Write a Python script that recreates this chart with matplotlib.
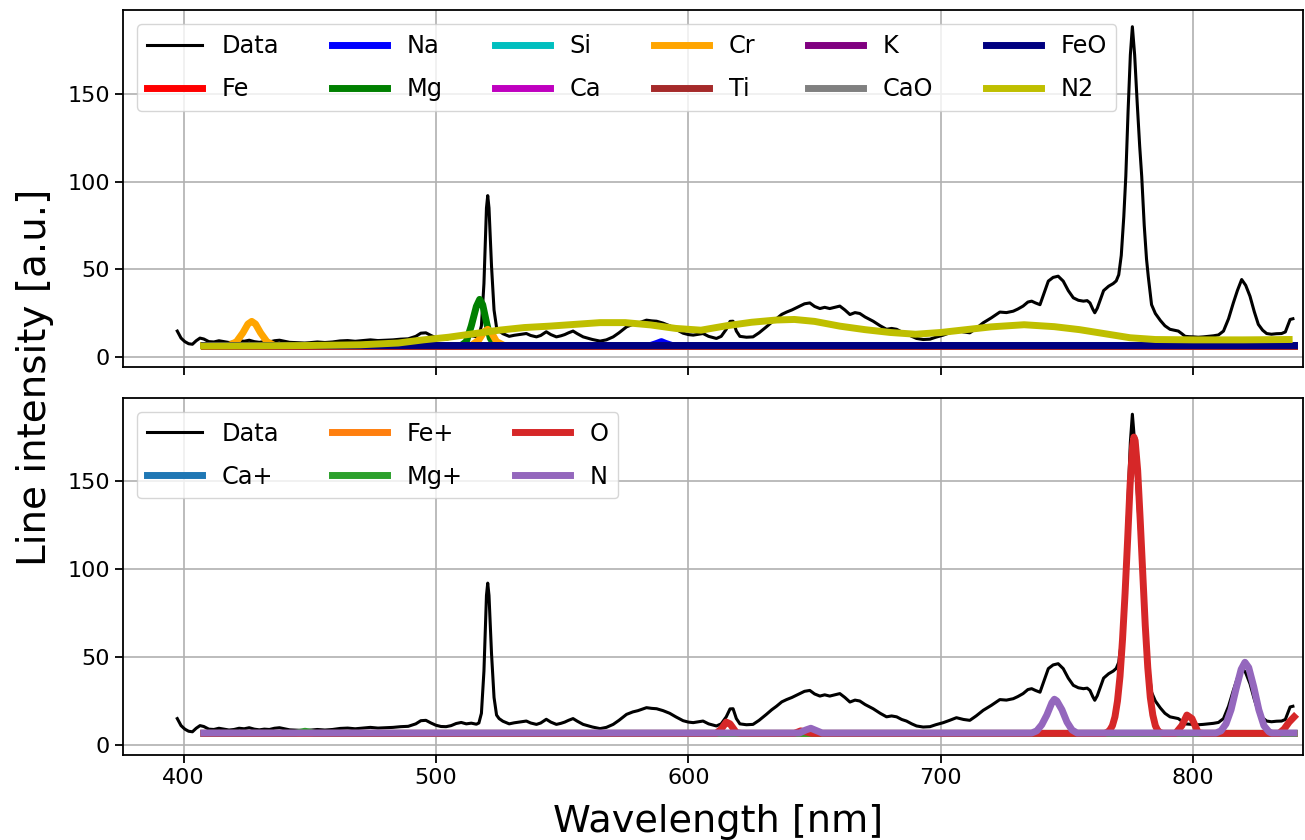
import matplotlib
matplotlib.use("Agg")
import matplotlib.pyplot as plt


# measured spectrum (same in both panels)
data_wl = [397.5, 399, 400.5, 402, 403.5, 405, 406.5, 408, 410, 412, 414, 416, 418, 420,
           422, 424, 426, 428, 430, 432, 434, 436, 438, 440, 442, 445, 448, 450, 453, 456,
           459, 462, 465, 468, 471, 474, 477, 480, 483, 486, 489, 492, 494, 496, 498, 500,
           502, 504, 506, 508, 510, 512, 514, 516, 517, 518, 519, 520, 520.5, 521, 522, 523,
           524, 525, 526.5, 529, 531, 533, 535.8, 537.5, 539.8, 541.5, 543.7, 545.5, 547.7,
           549.5, 551, 552.5, 554.3, 556, 558.3, 560, 562, 565, 567.5, 570.2, 572.5, 575.5,
           578, 580, 583.4, 585.5, 587.4, 590, 592.6, 595, 597.9, 600, 601.9, 604, 605.8,
           608, 611.1, 613, 615, 616.5, 617.7, 619, 620.4, 623, 625.6, 628, 630.9, 633,
           634.9, 637, 638.9, 641, 644.2, 646, 648.1, 650, 652.1, 654, 656, 658, 660, 662,
           664, 666, 667.9, 670, 673.2, 676, 678.5, 680.5, 682.5, 684.5, 686.4, 688.5,
           690.4, 693, 695.7, 698, 701, 703.5, 706.2, 709, 711.5, 714, 716.8, 720, 723.4,
           726, 728.7, 730.5, 732.6, 734.5, 736, 737.5, 739.3, 741, 742.6, 744.5, 746.5,
           748.5, 750.5, 752.5, 754.5, 756.5, 758, 759.1, 760.2, 761, 762, 763, 764.5,
           766.5, 768.3, 769.5, 770.5, 771.5, 772.5, 773.3, 774.2, 775.1, 775.9, 776.8,
           777.8, 778.8, 779.6, 780.6, 781.5, 782.2, 783, 783.5, 785, 787, 788.8, 790.8,
           792.5, 794.1, 795.5, 796.8, 798.5, 800.1, 802, 804, 806, 808, 810, 812, 814,
           815.9, 817.5, 819.2, 820.8, 822.5, 824.2, 825.8, 827.5, 829.1, 831, 833, 835,
           836.5, 838.4, 839.5]
data_val = [15, 11, 9, 7.8, 7.5, 9.5, 11, 10.5, 9, 8.8, 9.5, 9, 8.5, 8.8,
            9.5, 9.2, 9.8, 9, 8.6, 9, 8.8, 9.5, 9.8, 9.2, 8.6, 8.4, 8.2, 8.4, 8.8, 8.5,
            8.8, 9.4, 9.6, 9.2, 9.6, 10, 9.6, 9.8, 10, 10.4, 10.6, 12, 13.8, 14, 12.5, 11.2,
            10.5, 10.4, 11, 12.2, 12.8, 12, 12.4, 11.8, 12.5, 18, 42, 85, 92, 85, 52, 27,
            17, 15, 13.5, 12, 12.6, 13, 13.6, 12.5, 11.7, 12.5, 14.6, 13, 11.7,
            12.3, 13, 14, 15, 13.5, 11.7, 11, 10.2, 9.3, 10, 11.7, 14, 17.4,
            18.8, 19.5, 21.2, 20.8, 20.6, 19.5, 18, 16, 13.8, 13, 12.7, 13.2, 13.6,
            12, 10.8, 12, 16, 20.5, 20.6, 15, 12, 11.5, 11.7, 14, 17.4, 20,
            22, 24.5, 25.8, 27, 29.2, 30.5, 31, 29, 27.8, 28.5, 27.8, 28.5, 29.2, 27,
            24.4, 25.5, 25, 23, 20.6, 18, 16, 16.5, 16, 14.5, 13.6, 12,
            10.8, 10.2, 10.4, 11.5, 12.7, 14, 15.5, 14.5, 14, 16.5, 19.7, 22.5, 25.8,
            25.5, 26.3, 27.5, 29.2, 31.5, 32, 31, 30, 37, 43.4, 45.5, 46.2,
            43.4, 38, 33.9, 32.5, 32, 32.3, 31, 27.5, 25.4, 28, 32, 38,
            40.5, 42, 43.5, 47, 58, 80, 103, 140, 172, 188, 172,
            145, 120, 103, 75, 56, 46, 36, 30, 25, 21, 18, 16,
            15.5, 15, 13.5, 12, 11.8, 11.7, 11.5, 11.7, 12, 12.3, 12.8, 15, 22,
            31, 38, 44.3, 41, 34.8, 26, 18.8, 15.5, 13.6, 13.2, 13.5, 13.6,
            14.5, 21.6, 22]

# neutral atoms and molecules (top panel)
flat_wl = [408, 840]
fe_val = [6.5, 6.5]
na_wl = [408, 585, 587.5, 589.3, 591, 593.5, 840]
na_val = [6.8, 6.8, 8, 9, 8, 6.8, 6.8]
mg_wl = [408, 510, 512, 514, 516, 517.3, 518.5, 520, 521.5, 523, 525, 840]
mg_val = [6.8, 6.8, 9, 18, 29, 33, 30, 20, 11, 7.5, 6.8, 6.8]
si_val = [6.8, 6.8]
ca_val = [6.8, 6.8]
cr_wl = [408, 418, 421, 423.5, 425.5, 427, 428.5, 430.5, 433, 436,
         514, 517, 519, 520.5, 522, 524, 527, 840]
cr_val = [6.8, 6.8, 9, 14, 19, 20.5, 19, 14, 9, 6.8,
          6.8, 10, 14.5, 16, 14, 9, 6.8, 6.8]
ti_val = [6.7, 6.7]
k_val = [6.8, 6.8]
cao_val = [6.8, 6.8]
feo_val = [6.8, 6.8]
n2_wl = [408, 430, 450, 470, 485, 495, 505, 515, 525, 535, 545, 555, 565, 575, 585,
         595, 605, 615, 625, 635, 642, 650, 660, 670, 680, 690, 700, 710, 720, 733,
         745, 755, 765, 775, 785, 800, 820, 838]
n2_val = [6.5, 6.6, 6.8, 7.2, 8.2, 10, 11.5, 13.5, 15.5, 17, 17.8, 18.8, 19.8, 19.8, 18.5,
          16.5, 15.5, 18, 20, 21.3, 21.6, 20.5, 17.8, 15.8, 14.2, 13.2, 14.2, 15.8, 17.4, 18.6,
          17.5, 15.8, 13.5, 11.2, 10.2, 10, 10, 10.2]

# ions and atomic O / N (bottom panel)
cap_val = [6.6, 6.6]
fep_val = [6.6, 6.6]
mgp_wl = [408, 444, 446.5, 448.1, 450, 452, 840]
mgp_val = [6.6, 6.6, 7.3, 7.8, 7.3, 6.6, 6.6]
o_wl = [408, 611, 613, 615, 616.5, 619, 621, 642, 644.5, 646.5, 649,
        765, 766, 767, 768, 769, 770, 771, 772, 773, 774, 775, 776, 776.5, 777, 778, 779,
        780, 781, 782, 783, 784, 785, 786, 787, 788,
        793, 795.5, 797.5, 799.5, 802, 804, 834, 836, 838, 840]
o_val = [6.6, 6.6, 9, 13, 12, 7, 6.6, 6.6, 8, 7.5, 6.6,
         6.6, 7.2, 8.5, 11, 16, 25, 39, 60, 86, 116, 148, 170, 175, 173, 156, 128,
         98, 68, 44, 27, 17, 11, 8, 7, 6.6,
         6.6, 11, 17, 15, 7, 6.6, 6.6, 9, 13, 16]
n_wl = [408, 644, 646.5, 648.5, 650.5, 653, 736, 738, 740, 742, 744, 745, 746, 748,
        750, 752, 754, 809, 811, 813, 815, 817, 819, 820.5, 822, 824, 826, 828, 830,
        831, 840]
n_val = [6.8, 6.8, 8.5, 9.5, 8.3, 6.8, 6.8, 8, 11.5, 17, 24, 26, 25, 20,
         13, 8.5, 6.8, 6.8, 8, 12, 20, 32, 43, 47, 44, 33, 20, 11, 7.5,
         6.8, 6.8]

top_series = [
    ("Fe", flat_wl, fe_val, "r"),
    ("Na", na_wl, na_val, "b"),
    ("Mg", mg_wl, mg_val, "g"),
    ("Si", flat_wl, si_val, "c"),
    ("Ca", flat_wl, ca_val, "m"),
    ("Cr", cr_wl, cr_val, "orange"),
    ("Ti", flat_wl, ti_val, "brown"),
    ("K", flat_wl, k_val, "purple"),
    ("CaO", flat_wl, cao_val, "gray"),
    ("FeO", flat_wl, feo_val, "navy"),
    ("N2", n2_wl, n2_val, "y"),
]
bottom_series = [
    ("Ca+", flat_wl, cap_val, "C0"),
    ("Fe+", flat_wl, fep_val, "C1"),
    ("Mg+", mgp_wl, mgp_val, "C2"),
    ("O", o_wl, o_val, "C3"),
    ("N", n_wl, n_val, "C4"),
]

plt.rcParams["font.size"] = 16

fig, (ax1, ax2) = plt.subplots(2, 1, sharex=True, figsize=(13.05, 8.4), dpi=100)
fig.subplots_adjust(left=123 / 1305, right=1303 / 1305, top=1 - 10 / 840,
                    bottom=1 - 755 / 840, hspace=0.084)

for ax, series, ncol in [(ax1, top_series, 6), (ax2, bottom_series, 3)]:
    ax.plot(data_wl, data_val, color="k", lw=2.2, label="Data", zorder=2)
    for name, wl, val, col in series:
        ax.plot(wl, val, color=col, lw=5, label=name, zorder=3)
    ax.grid(True, color="#b0b0b0", lw=1.2)
    ax.set_axisbelow(True)
    ax.set_ylim(-5.7, 197.5)
    ax.set_yticks([0, 50, 100, 150])
    ax.tick_params(labelsize=16, length=6, width=1.3)
    for sp in ax.spines.values():
        sp.set_linewidth(1.3)
    ax.legend(loc="upper left", ncol=ncol, fontsize=17.3, handlelength=2.3,
              labelspacing=0.8, borderaxespad=0.6, columnspacing=2.2)

ax2.set_xlim(376, 843.5)
ax2.set_xticks([400, 500, 600, 700, 800])

fig.text(0.027, 0.551, "Line intensity [a.u.]", rotation=90, ha="center",
         va="center", fontsize=28)
fig.text(0.55, 0.021, "Wavelength [nm]", ha="center", va="center", fontsize=27.5)

fig.savefig("out.png", dpi=100)
